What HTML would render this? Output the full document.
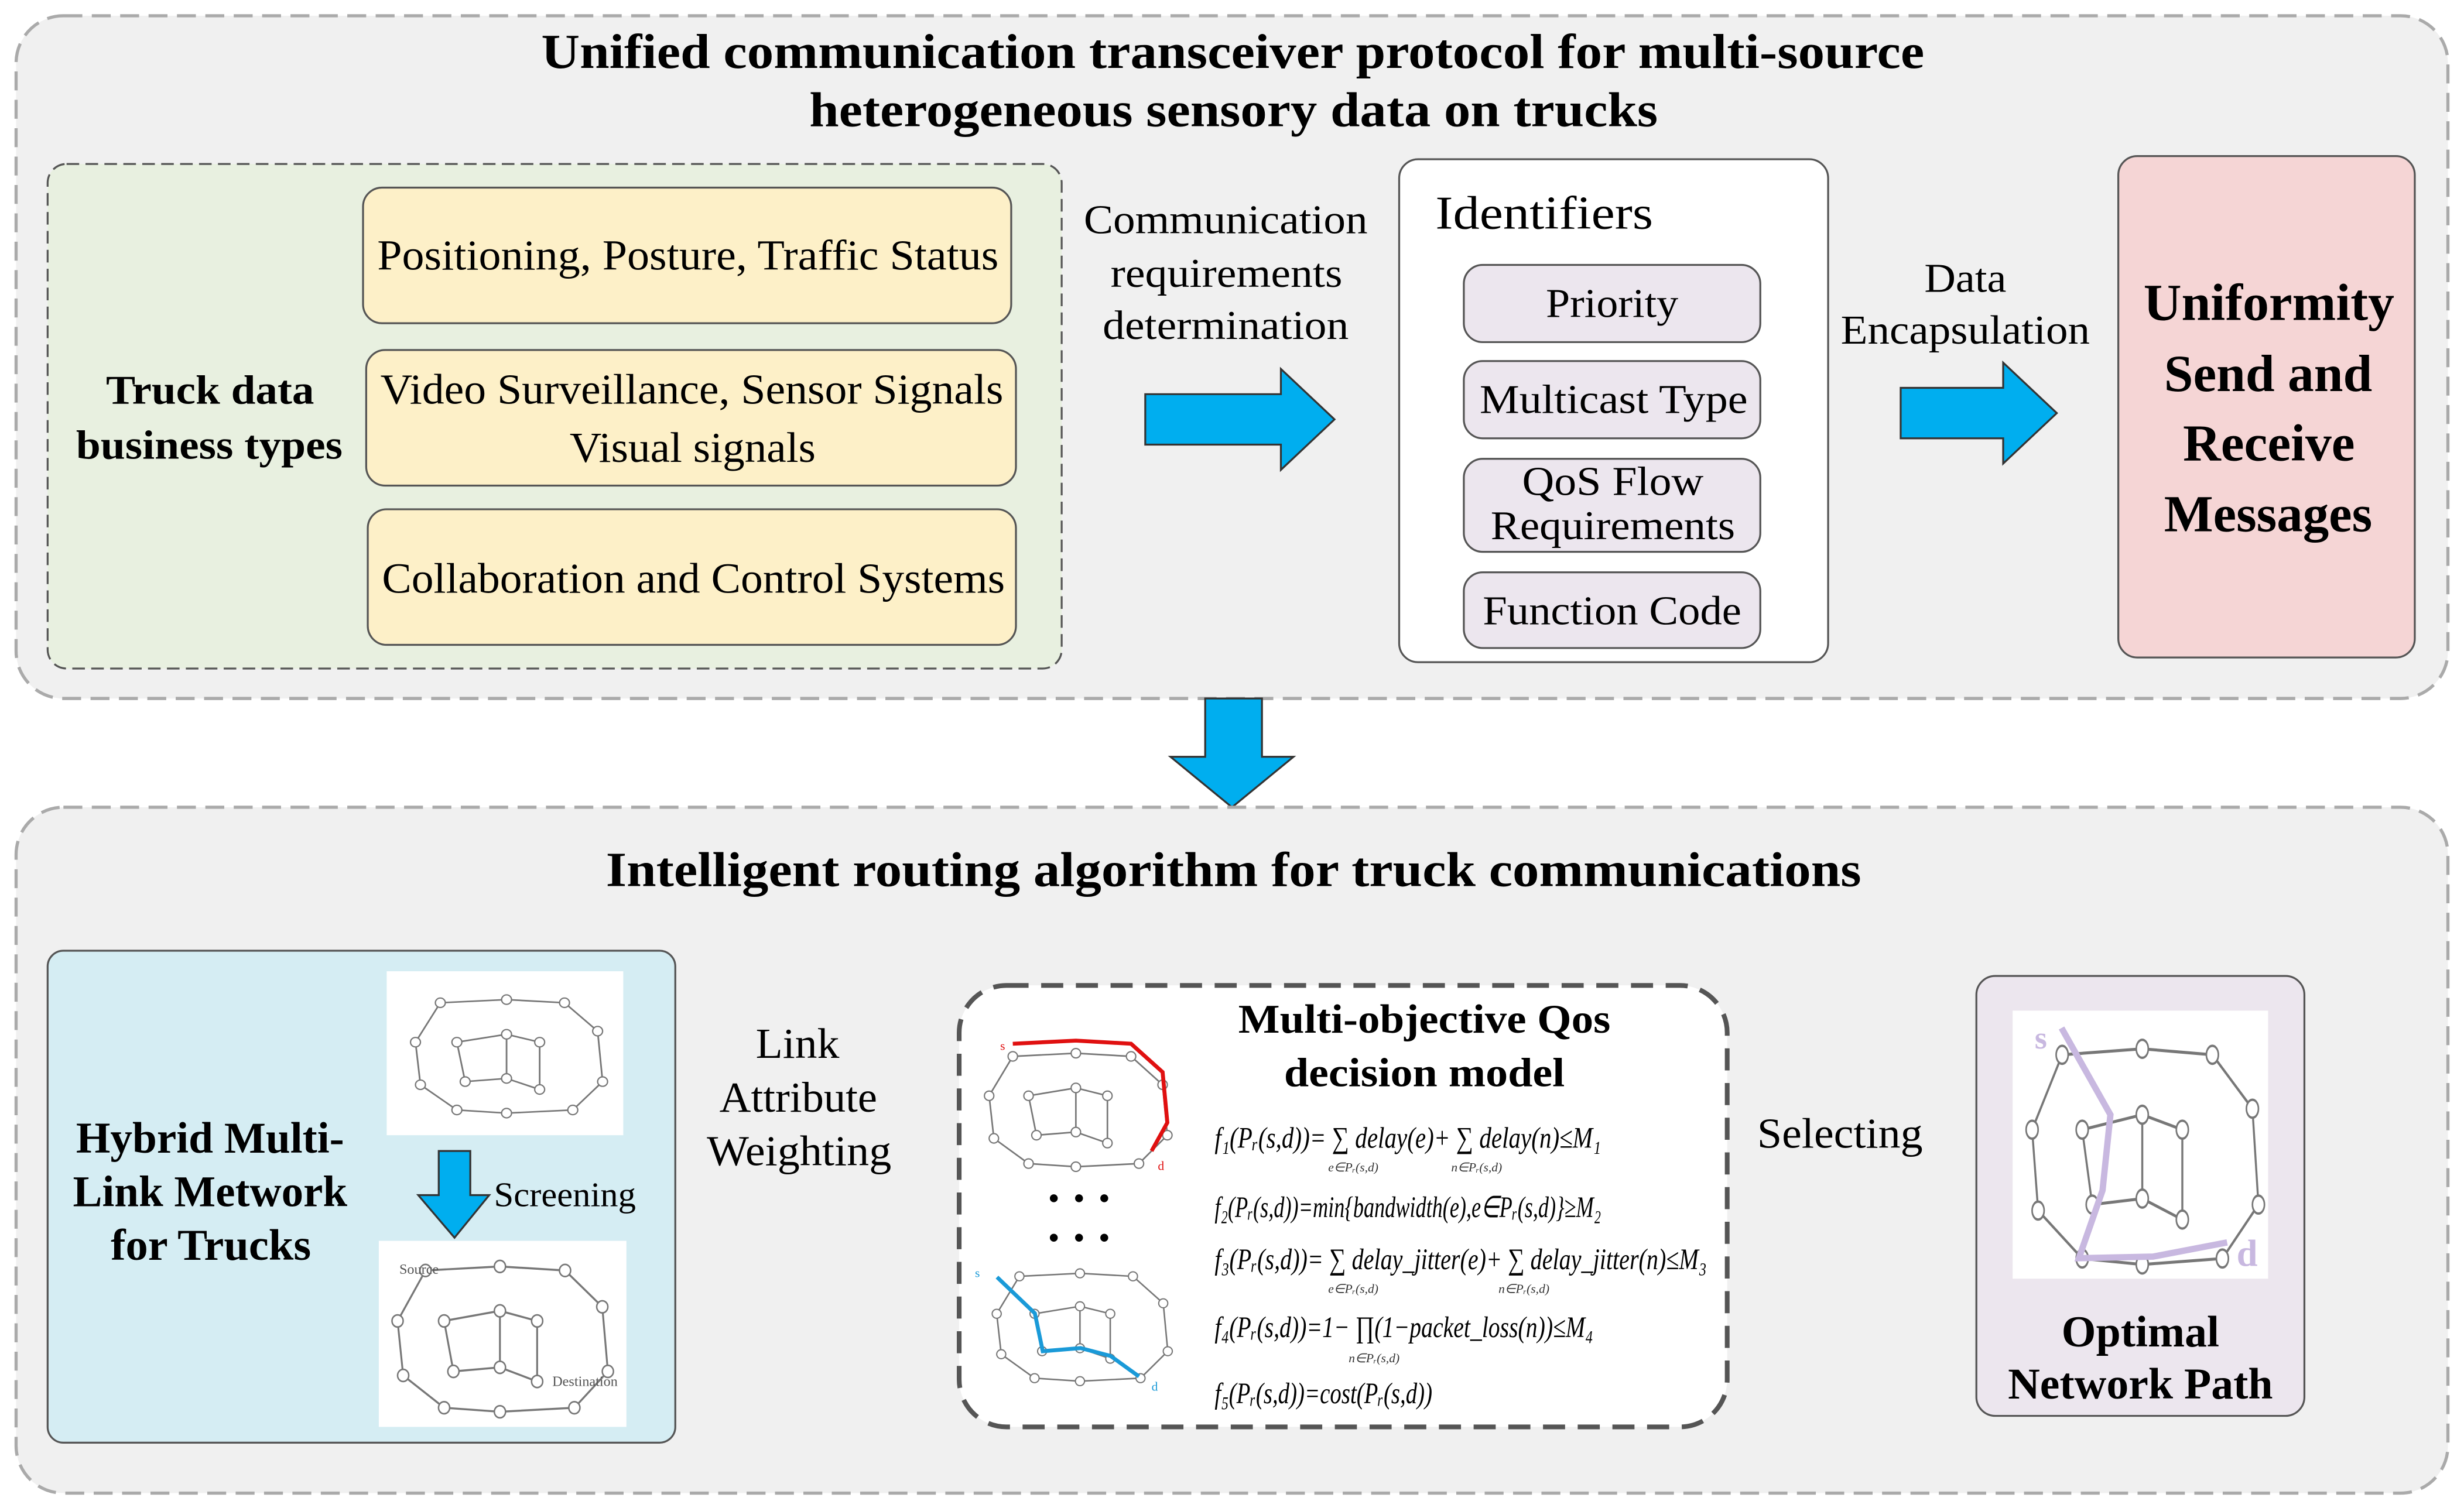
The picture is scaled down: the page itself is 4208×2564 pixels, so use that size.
<!DOCTYPE html>
<html><head><meta charset="utf-8"><style>
html,body{margin:0;padding:0;background:#fff;}
svg{display:block;}
text{font-family:"Liberation Serif",serif;}
</style></head><body>
<svg width="4208" height="2564" viewBox="0 0 1562 952" xmlns="http://www.w3.org/2000/svg">
<defs>
<g id="graphA">
<path d="M20,10 L60,8 L95,10 L115,28 L118,60 L100,78 L60,80 L30,78 L8,62 L5,35 Z M30,35 L60,30 L80,35 L80,65 M30,35 L35,60 L60,58 L80,65 M60,30 L60,58" fill="none" stroke="#777" stroke-width="1"/>
<g fill="#fff" stroke="#777" stroke-width="0.8">
<circle cx="20" cy="10" r="3"/><circle cx="60" cy="8" r="3"/><circle cx="95" cy="10" r="3"/><circle cx="115" cy="28" r="3"/><circle cx="118" cy="60" r="3"/><circle cx="100" cy="78" r="3"/><circle cx="60" cy="80" r="3"/><circle cx="30" cy="78" r="3"/><circle cx="8" cy="62" r="3"/><circle cx="5" cy="35" r="3"/><circle cx="30" cy="35" r="3"/><circle cx="60" cy="30" r="3"/><circle cx="80" cy="35" r="3"/><circle cx="80" cy="65" r="3"/><circle cx="35" cy="60" r="3"/><circle cx="60" cy="58" r="3"/>
</g></g>
</defs>
<!-- top panel -->
<rect x="10" y="10" width="1542" height="433" rx="30" fill="#f0f0f0" stroke="#aaa" stroke-width="2" stroke-dasharray="12,6"/>
<text x="343" y="43" font-size="31" font-weight="bold" textLength="877" lengthAdjust="spacingAndGlyphs">Unified communication transceiver protocol for multi-source</text>
<text x="513" y="80" font-size="31" font-weight="bold" textLength="538" lengthAdjust="spacingAndGlyphs">heterogeneous sensory data on trucks</text>
<rect x="30" y="104" width="643" height="320" rx="12" fill="#e8f0e0" stroke="#555" stroke-width="1.2" stroke-dasharray="8,4"/>
<text x="67" y="256" font-size="26" font-weight="bold" textLength="132" lengthAdjust="spacingAndGlyphs">Truck data</text>
<text x="48" y="291" font-size="26" font-weight="bold" textLength="169" lengthAdjust="spacingAndGlyphs">business types</text>
<g fill="#fdf0c8" stroke="#555" stroke-width="1.2">
<rect x="230" y="119" width="411" height="86" rx="12"/>
<rect x="232" y="222" width="412" height="86" rx="12"/>
<rect x="233" y="323" width="411" height="86" rx="12"/>
</g>
<g font-size="27">
<text x="239" y="171" textLength="394" lengthAdjust="spacingAndGlyphs">Positioning, Posture, Traffic Status</text>
<text x="241" y="256" textLength="395" lengthAdjust="spacingAndGlyphs">Video Surveillance, Sensor Signals</text>
<text x="361" y="293" textLength="156" lengthAdjust="spacingAndGlyphs">Visual signals</text>
<text x="242" y="376" textLength="395" lengthAdjust="spacingAndGlyphs">Collaboration and Control Systems</text>
</g>
<g font-size="26">
<text x="687" y="148" textLength="180" lengthAdjust="spacingAndGlyphs">Communication</text>
<text x="704" y="182" textLength="147" lengthAdjust="spacingAndGlyphs">requirements</text>
<text x="699" y="215" textLength="156" lengthAdjust="spacingAndGlyphs">determination</text>
<text x="1220" y="185" textLength="52" lengthAdjust="spacingAndGlyphs">Data</text>
<text x="1167" y="218" textLength="158" lengthAdjust="spacingAndGlyphs">Encapsulation</text>
</g>
<g fill="#00aeef" stroke="#333" stroke-width="1.2">
<path d="M726,250 L812,250 L812,234 L846,266 L812,298 L812,282 L726,282 Z"/>
<path d="M1205,246 L1270,246 L1270,230 L1304,262 L1270,294 L1270,278 L1205,278 Z"/>
<path d="M764,443 L800,443 L800,480 L820,480 L781,512 L742,480 L764,480 Z"/>
<path d="M451,770 L532,770 L532,757 L566,781 L532,806 L532,792 L451,792 Z"/>
<path d="M1133,768 L1180,768 L1180,755 L1211,778 L1180,802 L1180,789 L1133,789 Z"/>
</g>
<rect x="887" y="101" width="272" height="319" rx="12" fill="#fff" stroke="#555" stroke-width="1.2"/>
<text x="910" y="145" font-size="30" textLength="138" lengthAdjust="spacingAndGlyphs">Identifiers</text>
<g fill="#ece6ee" stroke="#555" stroke-width="1.2">
<rect x="928" y="168" width="188" height="49" rx="12"/>
<rect x="928" y="229" width="188" height="49" rx="12"/>
<rect x="928" y="291" width="188" height="59" rx="12"/>
<rect x="928" y="363" width="188" height="48" rx="12"/>
</g>
<g font-size="26">
<text x="980" y="201" textLength="84" lengthAdjust="spacingAndGlyphs">Priority</text>
<text x="938" y="262" textLength="170" lengthAdjust="spacingAndGlyphs">Multicast Type</text>
<text x="965" y="314" textLength="115" lengthAdjust="spacingAndGlyphs">QoS Flow</text>
<text x="945" y="342" textLength="155" lengthAdjust="spacingAndGlyphs">Requirements</text>
<text x="940" y="396" textLength="164" lengthAdjust="spacingAndGlyphs">Function Code</text>
</g>
<rect x="1343" y="99" width="188" height="318" rx="12" fill="#f5d5d5" stroke="#555" stroke-width="1.2"/>
<g font-size="33" font-weight="bold">
<text x="1359" y="203" textLength="159" lengthAdjust="spacingAndGlyphs">Uniformity</text>
<text x="1372" y="248" textLength="132" lengthAdjust="spacingAndGlyphs">Send and</text>
<text x="1384" y="292" textLength="109" lengthAdjust="spacingAndGlyphs">Receive</text>
<text x="1372" y="337" textLength="132" lengthAdjust="spacingAndGlyphs">Messages</text>
</g>
<!-- bottom panel -->
<rect x="10" y="512" width="1542" height="435" rx="30" fill="#f0f0f0" stroke="#aaa" stroke-width="2" stroke-dasharray="12,6"/>
<text x="384" y="562" font-size="31" font-weight="bold" textLength="796" lengthAdjust="spacingAndGlyphs">Intelligent routing algorithm for truck communications</text>
<rect x="30" y="603" width="398" height="312" rx="10" fill="#d5edf3" stroke="#555" stroke-width="1.2"/>
<g font-size="28" font-weight="bold">
<text x="48" y="731" textLength="170" lengthAdjust="spacingAndGlyphs">Hybrid Multi-</text>
<text x="46" y="765" textLength="174" lengthAdjust="spacingAndGlyphs">Link Metwork</text>
<text x="70" y="799" textLength="127" lengthAdjust="spacingAndGlyphs">for Trucks</text>
</g>
<rect x="245" y="616" width="150" height="104" fill="#fff"/>
<g transform="translate(258,626) scale(1.05,1.0)"><use href="#graphA"/></g>
<path d="M278,730 L298,730 L298,758 L310,758 L288,785 L265,758 L278,758 Z" fill="#00aeef" stroke="#333" stroke-width="1.2"/>
<text x="313" y="765" font-size="22" textLength="90" lengthAdjust="spacingAndGlyphs">Screening</text>
<rect x="240" y="787" width="157" height="118" fill="#fff"/>
<g transform="translate(246,793) scale(1.18,1.28)"><use href="#graphA"/></g>
<text x="253" y="808" font-size="9" fill="#555">Source</text>
<text x="350" y="879" font-size="9" fill="#555">Destination</text>
<g font-size="27">
<text x="479" y="671" textLength="53" lengthAdjust="spacingAndGlyphs">Link</text>
<text x="456" y="705" textLength="100" lengthAdjust="spacingAndGlyphs">Attribute</text>
<text x="448" y="739" textLength="117" lengthAdjust="spacingAndGlyphs">Weighting</text>
<text x="1114" y="728" textLength="105" lengthAdjust="spacingAndGlyphs">Selecting</text>
</g>
<rect x="608" y="625" width="487" height="280" rx="30" fill="#fff" stroke="#555" stroke-width="3" stroke-dasharray="14,8"/>
<text x="785" y="655" font-size="26" font-weight="bold" textLength="236" lengthAdjust="spacingAndGlyphs">Multi-objective Qos</text>
<text x="814" y="689" font-size="26" font-weight="bold" textLength="178" lengthAdjust="spacingAndGlyphs">decision model</text>
<g transform="translate(622,660)"><use href="#graphA"/></g>
<path d="M642,662 L682,660 L717,662 L737,680 L740,712 L730,730" fill="none" stroke="#e01010" stroke-width="2.5"/>
<text x="634" y="666" font-size="8" fill="#e01010">s</text><text x="734" y="742" font-size="8" fill="#e01010">d</text>
<g transform="translate(627,800) scale(0.96,0.95)"><use href="#graphA"/></g>
<path d="M632,810 L656,833 L661,857 L685,855 L704,860 L722,873" fill="none" stroke="#1a9ad8" stroke-width="2.5"/>
<text x="618" y="810" font-size="8" fill="#1a9ad8">s</text><text x="730" y="882" font-size="8" fill="#1a9ad8">d</text>
<g fill="#000"><circle cx="668" cy="760" r="2.5"/><circle cx="684" cy="760" r="2.5"/><circle cx="700" cy="760" r="2.5"/><circle cx="668" cy="785" r="2.5"/><circle cx="684" cy="785" r="2.5"/><circle cx="700" cy="785" r="2.5"/></g>
<g font-size="19" font-style="italic">
<text x="770" y="728" textLength="245" lengthAdjust="spacingAndGlyphs">f₁(Pᵣ(s,d))= ∑ delay(e)+ ∑ delay(n)≤M₁</text>
<text x="770" y="772" textLength="245" lengthAdjust="spacingAndGlyphs">f₂(Pᵣ(s,d))=min{bandwidth(e),e∈Pᵣ(s,d)}≥M₂</text>
<text x="770" y="805" textLength="312" lengthAdjust="spacingAndGlyphs">f₃(Pᵣ(s,d))= ∑ delay_jitter(e)+ ∑ delay_jitter(n)≤M₃</text>
<text x="770" y="848" textLength="240" lengthAdjust="spacingAndGlyphs">f₄(Pᵣ(s,d))=1− ∏(1−packet_loss(n))≤M₄</text>
<text x="770" y="890" textLength="138" lengthAdjust="spacingAndGlyphs">f₅(Pᵣ(s,d))=cost(Pᵣ(s,d))</text>
</g>
<g font-size="8" font-style="italic" fill="#333">
<text x="842" y="743">e∈Pᵣ(s,d)</text><text x="920" y="743">n∈Pᵣ(s,d)</text>
<text x="842" y="820">e∈Pᵣ(s,d)</text><text x="950" y="820">n∈Pᵣ(s,d)</text>
<text x="855" y="864">n∈Pᵣ(s,d)</text>
</g>
<rect x="1253" y="619" width="208" height="279" rx="12" fill="#ece6ee" stroke="#555" stroke-width="1.2"/>
<rect x="1276" y="641" width="162" height="170" fill="#fff"/>
<g transform="translate(1282,650) scale(1.27,1.9)"><use href="#graphA"/></g>
<path d="M1307,652 L1338,707 L1333,755 L1318,798 L1365,797 L1412,788" fill="none" stroke="#c8b8e0" stroke-width="4"/>
<text x="1290" y="665" font-size="20" font-weight="bold" fill="#c8b8e0">s</text>
<text x="1418" y="803" font-size="24" font-weight="bold" fill="#c8b8e0">d</text>
<text x="1307" y="854" font-size="28" font-weight="bold" textLength="100" lengthAdjust="spacingAndGlyphs">Optimal</text>
<text x="1273" y="887" font-size="28" font-weight="bold" textLength="168" lengthAdjust="spacingAndGlyphs">Network Path</text>
</svg>
</body></html>
